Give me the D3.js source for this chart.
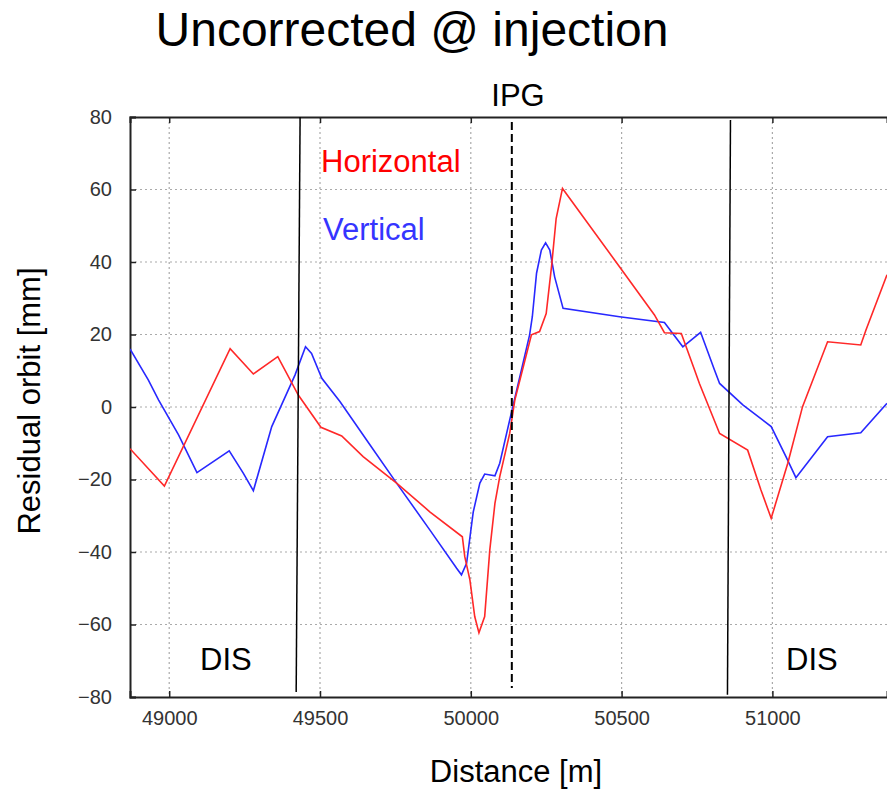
<!DOCTYPE html>
<html>
<head>
<meta charset="utf-8">
<script src="https://cdn.jsdelivr.net/npm/d3@7"></script>
<style>
	body { margin:0; background:#fff; }
	svg { display:block; font-family:"Liberation Sans", Arial, sans-serif; }
</style>
</head>
<body>
<div id="chart"></div>
<script>

// [distance m, orbit mm]
const horizontal = [
	[48870,-11.5],[48984,-21.8],[49202,16.1],[49279,9.1],[49360,13.9],[49428,3.3],
	[49503,-5.6],[49572,-8],[49643,-13.7],[49754,-21],[49864,-28.9],[49972,-35.8],
	[49980,-41.3],[49997,-47.7],[50013,-57.8],[50027,-62.3],[50046,-57.8],[50063,-39.4],
	[50080,-26.6],[50096,-19.2],[50129,-7.3],[50146,1.9],[50201,19.9],[50228,20.8],
	[50250,25.8],[50268,39],[50283,52],[50304,60.3],[50493,38.7],[50609,25.4],
	[50642,20.5],[50698,20.3],[50742,10.2],[50758,6.5],[50825,-7.3],[50918,-11.9],
	[50962,-22.9],[50996,-30.7],[51051,-15.5],[51100,0.1],[51183,18],[51293,17.1],
	[51310,21.2],[51380,36.5]
]

const vertical = [
	[48870,16],[48931,7.4],[48965,1.9],[49031,-7.7],[49092,-18.1],[49199,-12.1],
	[49246,-18.3],[49279,-23.1],[49340,-5.4],[49417,8.8],[49452,16.6],[49472,14.8],
	[49506,7.9],[49566,1.5],[49666,-10.5],[49754,-21],[49864,-33.9],[49953,-44.5],
	[49969,-46.3],[49986,-43.1],[50008,-29],[50030,-21],[50046,-18.5],[50080,-19],
	[50096,-15.5],[50129,-3.6],[50195,19.9],[50204,24.9],[50218,36.9],[50234,43.3],
	[50248,45.3],[50262,43.3],[50278,35.9],[50306,27.2],[50493,24.9],[50642,23.3],
	[50703,16.6],[50762,20.6],[50808,10.2],[50825,6.5],[50902,0.6],[50996,-5.4],
	[51045,-13.7],[51078,-19.5],[51183,-8.2],[51293,-7.1],[51380,1]
]

const xTicks = [49000,49500,50000,50500,51000]
const yTicks = [-80,-60,-40,-20,0,20,40,60,80]

// section markers: [top distance, bottom distance, top mm, bottom mm]
const disLines = [[49434,49421,80,-78.6],[50861,50851,79.2,-79.4]]
const ipgLine = [50136,50136,78.6,-77.5]

const width = 887, height = 790
const box = {left:130, right:887, top:117, bottom:697}

const svg = d3.select("#chart").append("svg")
	.attr("width",width).attr("height",height)

const x = d3.scaleLinear().domain([48870,51380]).range([box.left,box.right])
const y = d3.scaleLinear().domain([-80,80]).range([box.bottom,box.top])

svg.append("defs").append("clipPath").attr("id","plot")
	.append("rect")
	.attr("x",box.left).attr("y",box.top)
	.attr("width",box.right-box.left).attr("height",box.bottom-box.top)

// grid
const grid = svg.append("g").attr("stroke","#aaa").attr("stroke-width",1.2).attr("stroke-dasharray","2,3")
grid.selectAll(".gx").data(xTicks).enter().append("line")
	.attr("x1",d=>x(d)).attr("x2",d=>x(d)).attr("y1",box.top).attr("y2",box.bottom)
grid.selectAll(".gy").data(yTicks.slice(1,-1)).enter().append("line")
	.attr("x1",box.left).attr("x2",box.right).attr("y1",d=>y(d)).attr("y2",d=>y(d))

// axes, ticks pointing inward
const xAxis = svg.append("g").attr("transform","translate(0,"+box.bottom+")")
	.call(d3.axisBottom(x).tickValues(xTicks).tickSize(-6).tickPadding(14).tickFormat(d3.format("d")))
const xTop = svg.append("g").attr("transform","translate(0,"+box.top+")")
	.call(d3.axisTop(x).tickValues(xTicks).tickSize(-6).tickFormat(""))
const yAxis = svg.append("g").attr("transform","translate("+box.left+",0)")
	.call(d3.axisLeft(y).tickValues(yTicks).tickSize(-6).tickPadding(18))

;[xAxis,xTop,yAxis].forEach(a=>{
	a.select(".domain").attr("stroke","#222").attr("stroke-width",2)
	a.selectAll(".tick line").attr("stroke","#222").attr("stroke-width",1.5)
	a.selectAll("text").attr("fill","#333").style("font-size","20px")
		.style("font-family","'Liberation Sans', Arial, sans-serif")
})

// series
const line = d3.line().x(d=>x(d[0])).y(d=>y(d[1]))
const plot = svg.append("g").attr("clip-path","url(#plot)")
plot.append("path").datum(vertical)
	.attr("d",line).attr("fill","none").attr("stroke","#2828ff").attr("stroke-width",1.6)
plot.append("path").datum(horizontal)
	.attr("d",line).attr("fill","none").attr("stroke","#ff2828").attr("stroke-width",1.6)

// markers
svg.selectAll(".dis").data(disLines).enter().append("line")
	.attr("x1",d=>x(d[0])).attr("x2",d=>x(d[1])).attr("y1",d=>y(d[2])).attr("y2",d=>y(d[3]))
	.attr("stroke","#000").attr("stroke-width",1.5)
svg.append("line")
	.attr("x1",x(ipgLine[0])).attr("x2",x(ipgLine[1])).attr("y1",y(ipgLine[2])).attr("y2",y(ipgLine[3]))
	.attr("stroke","#000").attr("stroke-width",2).attr("stroke-dasharray","8,4")

// texts
const label = (t,px,py,size,fill,anchor)=>svg.append("text")
	.attr("x",px).attr("y",py).attr("text-anchor",anchor||"start")
	.style("font-size",size+"px").attr("fill",fill||"#000").text(t)

label("Uncorrected @ injection",412,46,48,"#000","middle")
label("IPG",518,106,31,"#000","middle")
label("Horizontal",321,172,31,"#ff0000")
label("Vertical",323,240,31,"#3535ff")
label("DIS",200,670,31)
label("DIS",786,670,31)
label("Distance [m]",516,782,31,"#000","middle")
svg.append("text")
	.attr("transform","translate(40,401) rotate(-90)")
	.attr("text-anchor","middle").style("font-size","31px").text("Residual orbit [mm]")

</script>
</body>
</html>
